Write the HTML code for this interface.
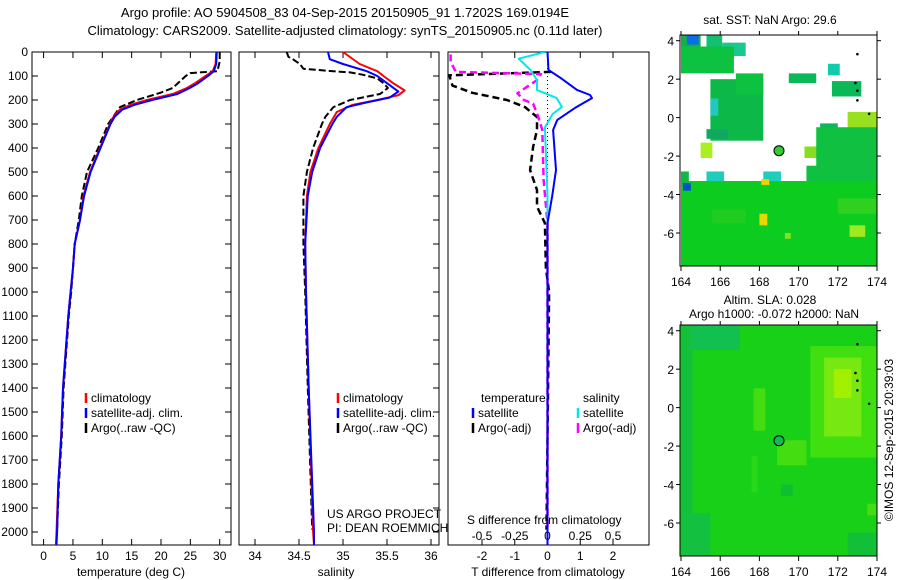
<!DOCTYPE html>
<html><head><meta charset="utf-8">
<style>
html,body{margin:0;padding:0;background:#fff;}
svg{display:block;font-family:"Liberation Sans",sans-serif;}
text{font-size:12px;fill:#000;}
</style></head>
<body>
<svg id="fig" width="900" height="580" viewBox="0 0 900 580" xmlns="http://www.w3.org/2000/svg">
<rect x="0" y="0" width="900" height="580" fill="#fff"/>
<text x="345" y="17" text-anchor="middle" style="font-size:13px">Argo profile: AO 5904508_83 04-Sep-2015 20150905_91 1.7202S 169.0194E</text>
<text x="345" y="35" text-anchor="middle" style="font-size:13px">Climatology: CARS2009. Satellite-adjusted climatology: synTS_20150905.nc (0.11d later)</text>
<g id="g"></g>
</svg>
<script>
// ---------- data ----------
const depthTicks=[0,100,200,300,400,500,600,700,800,900,1000,1100,1200,1300,1400,1500,1600,1700,1800,1900,2000];
const tempTicks=[0,5,10,15,20,25,30];
const salTicks=[34,34.5,35,35.5,36];
const tdiffTicks=[-2,-1,0,1,2];
const sdiffTicks=[-0.5,-0.25,0,0.25,0.5];
const sdiffTickLabels=["-0.5","-0.25","0","0.25","0.5"];

const tClimDepth=[0,50,80,100,130,150,175,200,220,240,270,300,400,500,600,700,800,900,1000,1100,1400,1600,1800,2000,2054];
const tClimVal=[29.4,29.3,28.8,27.6,25.8,24.4,22,17.6,14.8,13,11.9,11.3,9.6,7.9,6.8,6.2,5.3,5.0,4.6,4.2,3.3,3.0,2.5,2.2,2.1];
const tSatVal=[29.5,29.4,29.0,28.0,26.3,24.9,22.8,18.5,15.5,13.4,12.1,11.4,9.7,8.0,6.9,6.2,5.3,5.0,4.6,4.2,3.3,3.0,2.5,2.3,2.2];
const tArgoDepth=[0,40,80,88,100,150,170,200,230,300,400,500,600,700,800,900,1000,1100,1400,1600,1800,1990];
const tArgoVal=[30.0,30.0,29.6,25,24.2,22,19.9,15.9,13,11,9.3,7.4,6.5,6.0,5.3,5.0,4.7,4.3,3.4,3.1,2.6,2.3];

const sClimDepth=[0,50,80,100,130,160,180,200,220,250,300,400,500,600,800,1000,1400,2000,2054];
const sClimVal=[35.0,35.19,35.39,35.46,35.57,35.70,35.63,35.39,35.11,34.93,34.85,34.72,34.63,34.59,34.57,34.58,34.61,34.66,34.67];
const sSatDepth=[0,30,50,80,100,130,165,190,210,230,270,300,400,500,600,800,1000,1400,2000,2054];
const sSatVal=[34.83,34.85,35.0,35.27,35.39,35.5,35.63,35.53,35.27,35.04,34.93,34.88,34.74,34.65,34.6,34.57,34.58,34.61,34.67,34.67];
const sArgoDepth=[0,20,30,50,70,80,85,95,110,130,150,175,200,230,270,300,400,500,600,800,1000,1400,1990];
const sArgoVal=[34.36,34.38,34.43,34.51,34.55,34.89,35.08,35.23,35.39,35.46,35.51,35.42,35.08,34.89,34.80,34.76,34.66,34.59,34.55,34.55,34.57,34.6,34.65];

const dTSatDepth=[0,75,108,158,179,192,233,283,325,492,603,713,2054];
const dTSatVal=[0,0.03,0.4,0.9,1.3,1.36,0.84,0.3,0.17,0.26,0.14,0,0];
const dSSatDepth=[0,28,75,117,158,192,229,258,314,600,2054];
const dSSatVal=[-0.02,-0.22,-0.13,-0.08,-0.08,0.07,0.11,0.04,-0.02,0,0];
const dTArgoDepth=[83,97,140,170,200,229,271,325,396,492,575,644,713,900,1000,1990];
const dTArgoVal=[0.1,-3,-2.9,-2.3,-1.24,-0.69,-0.32,-0.32,-0.44,-0.53,-0.32,-0.32,-0.08,-0.05,0.05,-0.03];
const dSArgoDepth=[10,40,83,92,117,172,200,215,271,325,533,713,1990];
const dSArgoVal=[-0.74,-0.74,-0.7,-0.05,-0.08,-0.23,-0.18,-0.11,-0.07,-0.04,-0.03,0,0];

const lonTicks=[164,166,168,170,172,174];
const latTicks=[4,2,0,-2,-4,-6];
// SST map patches: lon0, lon1, lat0, lat1, colour
const sstLon0=[164,164,164.3,165.3,166.1,164,165.5,166.8,165.5,165.3,165,169.5,171.5,171.7,171.1,172.5,170.3,170.9,170.4,164,164,165.3,168.2,168.1,168,169.3,172.6,164.1,172,165.6];
const sstLon1=[174,165,164.9,166.1,167.3,166.7,168.2,168.2,165.9,166.4,165.6,170.9,172.1,173.2,172,174,171,174,174,174,164.4,166.2,169.1,168.5,168.4,169.6,173.4,164.5,174,167.3];
const sstLat0=[-7.7,3.6,3.8,3.1,3.2,2.3,-1.2,1.2,0.1,-1.1,-2.1,1.8,2.2,1.1,-0.9,-1.1,-2.1,-3,-3.5,-7.7,-3.6,-3.3,-3.3,-3.5,-5.6,-6.3,-6.2,-3.8,-5.0,-5.5];
const sstLat1=[-3.3,4.3,4.3,4.3,3.9,3.7,2.0,2.3,1.0,-0.6,-1.3,2.3,2.8,1.9,-0.3,0.3,-1.5,-0.5,-2.5,-3.3,-2.8,-2.8,-2.8,-3.2,-5.0,-6.0,-5.6,-3.4,-4.2,-4.8];
const sstColor=["#14c43c","#10b050","#0a6ee6","#13c070","#18c890","#0cc240","#0bb848","#0cc240","#20c8c0","#10a860","#aaf020","#0bb858","#11ccaa","#0bb858","#0bb858","#99e020","#88dd20","#10c040","#10c040","#0ccc20","#10b848","#20ccbb","#20ccbb","#f0d000","#e8d800","#88e020","#a0e820","#0050d0","#30d020","#20cc20"];
// SLA map patches
const slaLon0=[164,164,164.5,167.7,168.9,170.6,171.3,171.8,173.5,169.1,167.6,164,172.5];
const slaLon1=[174,164.6,167,168.3,170.4,174,173.2,172.7,174,169.7,167.9,165.5,174];
const slaLat0=[-7.7,-7.7,3,-1.2,-3.0,-2.6,-1.5,0.5,-5.6,-4.6,-4.4,-7.7,-7.7];
const slaLat1=[4.3,4.3,4.3,1.0,-1.7,3.2,2.6,2.0,-5.0,-4.0,-2.5,-5.5,-6.5];
const slaColor=["#18d018","#14c03a","#12c050","#44dd11","#44dd11","#40e010","#77e811","#a0f000","#44dd11","#0cc030","#2ad81a","#14c040","#12c038"];

// ---------- helpers ----------
const NS="http://www.w3.org/2000/svg";
const G=document.getElementById('g');
function mk(tag,attrs,parent){const e=document.createElementNS(NS,tag);for(const k in attrs)e.setAttribute(k,attrs[k]);(parent||G).appendChild(e);return e;}
const Y0=52,Y1=545;
function yD(d){return Y0+d*0.24;}
function xT(t){return 43.6+t*5.87;}
function xS(s){return 255+(s-34)*88;}
function xdT(v){return 547.5+v*32.75;}
function xdS(v){return 547.5+v*131;}
const panels=[[32,231],[239,439],[448,649]];

panels.forEach((p,i)=>{
  const r=mk('rect',{x:p[0],y:Y0,width:p[1]-p[0],height:Y1-Y0,fill:'none',stroke:'#000','stroke-width':1});
  
  
});
depthTicks.forEach(d=>{
  const y=yD(d);
  const t=mk('text',{x:28,y:y+4,'text-anchor':'end'});t.textContent=d;
  
  
  mk('line',{x1:32,x2:38,y1:y,y2:y,stroke:'#000'});
  mk('line',{x1:225,x2:231,y1:y,y2:y,stroke:'#000'});
  mk('line',{x1:433,x2:439,y1:y,y2:y,stroke:'#000'});
});
function xTicks(vals,labels,fx,ly,tickTop){
  vals.forEach((v,i)=>{
    const x=fx(v);
    mk('line',{x1:x,x2:x,y1:Y1,y2:Y1-6,stroke:'#000'});
    if(tickTop) mk('line',{x1:x,x2:x,y1:Y0,y2:Y0+6,stroke:'#000'});
    const t=mk('text',{x:x,y:ly,'text-anchor':'middle'});t.textContent=labels[i];
    
    
  });
}
xTicks(tempTicks,tempTicks.map(String),xT,560,true);
xTicks(salTicks,salTicks.map(String),xS,560,true);
xTicks(tdiffTicks,tdiffTicks.map(String),xdT,560,true);
sdiffTicks.forEach((v,i)=>{
  const t=mk('text',{x:xdS(v),y:540,'text-anchor':'middle'});t.textContent=sdiffTickLabels[i];
  
  
});
mk('line',{x1:xdT(0),x2:xdT(0),y1:Y0,y2:Y1,stroke:'#000','stroke-dasharray':'1,3'});

function line(depths,vals,fx,color,dash,width,name){
  const pts=depths.map((d,i)=>fx(vals[i]).toFixed(1)+','+yD(d).toFixed(1)).join(' ');
  const p=mk('polyline',{points:pts,fill:'none',stroke:color,'stroke-width':width||2,'stroke-dasharray':dash||'none','stroke-linejoin':'round'});
  
  
}
mk('clipPath',{id:'c3'});
mk('rect',{x:448,y:52,width:201,height:493},document.getElementById('c3'));
line(tArgoDepth,tArgoVal,xT,'#000','7,3',2,'temp-argo-line');
line(tClimDepth,tClimVal,xT,'#f00','',2,'temp-climatology-line');
line(tClimDepth,tSatVal,xT,'#00f','',2,'temp-satellite-line');
line(sArgoDepth,sArgoVal,xS,'#000','7,3',2,'sal-argo-line');
line(sClimDepth,sClimVal,xS,'#f00','',2,'sal-climatology-line');
line(sSatDepth,sSatVal,xS,'#00f','',2,'sal-satellite-line');
const before=G.childNodes.length;
line(dTArgoDepth,dTArgoVal,xdT,'#000','7,4',2.5,'tdiff-argo-line');
line(dSArgoDepth,dSArgoVal,xdS,'#f0f','7,4',2.5,'sdiff-argo-line');
line(dSSatDepth,dSSatVal,xdS,'#00e8e8','',2,'sdiff-satellite-line');
line(dTSatDepth,dTSatVal,xdT,'#00f','',2,'tdiff-satellite-line');
for(let i=before;i<G.childNodes.length;i++)G.childNodes[i].setAttribute('clip-path','url(#c3)');

function txt(x,y,s,name,anchor){const t=mk('text',{x:x,y:y,'text-anchor':anchor||'start'});t.textContent=s;
  
  return t;}
function legend(x,y,color,label,name){
  mk('line',{x1:x,x2:x,y1:y-9,y2:y+1,stroke:color,'stroke-width':2.5});
  txt(x+5,y,label,name);
}
[[86,'temp'],[338,'sal']].forEach(([lx,n])=>{
  legend(lx,402,'#f00','climatology',n+'-legend-climatology');
  legend(lx,417,'#00f','satellite-adj. clim.',n+'-legend-satellite');
  legend(lx,432,'#000','Argo(..raw -QC)',n+'-legend-argo');
});
txt(481,402,'temperature','diff-legend-temperature-title');
txt(583,402,'salinity','diff-legend-salinity-title');
legend(473,417,'#00f','satellite','diff-legend-t-satellite');
legend(473,432,'#000','Argo(-adj)','diff-legend-t-argo');
legend(578,417,'#00e8e8','satellite','diff-legend-s-satellite');
legend(578,432,'#f0f','Argo(-adj)','diff-legend-s-argo');
txt(327,518,'US ARGO PROJECT','credit-project');
txt(327,532,'PI: DEAN ROEMMICH','credit-pi');
txt(467,524,'S difference from climatology','s-diff-axis-title');
txt(131,576,'temperature (deg C)','temp-axis-title','middle');
txt(336,576,'salinity','sal-axis-title','middle');
txt(548,576,'T difference from climatology','t-diff-axis-title','middle');

// ---------- maps ----------
function map(top,bot,lat4y,lat6y,lon0,lon1,la0,la1,col,bg,nm){
  const X0=680,X1=877;
  const lx=v=>681+(v-164)*19.6;
  const ly=v=>lat4y+(4-v)*(lat6y-lat4y)/10;
  mk('clipPath',{id:'cl'+nm});
  mk('rect',{x:X0,y:top,width:X1-X0,height:bot-top},document.getElementById('cl'+nm));
  const gg=mk('g',{'clip-path':'url(#cl'+nm+')'});
  
  
  if(bg) mk('rect',{x:X0,y:top,width:X1-X0,height:bot-top,fill:bg},gg);
  lon0.forEach((v,i)=>{
    const r=mk('rect',{x:lx(v),y:ly(la1[i]),width:lx(lon1[i])-lx(v),height:ly(la0[i])-ly(la1[i]),fill:col[i]},gg);
    
    
  });
  const c=mk('circle',{cx:lx(169),cy:ly(-1.72),r:5,fill:nm==='sst'?'#3c3':'#1b5',stroke:'#000','stroke-width':1});
  
  
  const f=mk('rect',{x:X0,y:top,width:X1-X0,height:bot-top,fill:'none',stroke:'#000'});
  
  
  lonTicks.forEach(v=>{const x=lx(v);mk('line',{x1:x,x2:x,y1:bot,y2:bot+5,stroke:'#000'});mk('line',{x1:x,x2:x,y1:top,y2:top-4,stroke:'#000'});
    txt(x,bot+20,String(v),nm+'-lon-label','middle');});
  latTicks.forEach(v=>{const y=ly(v);mk('line',{x1:X0,x2:X0-4,y1:y,y2:y,stroke:'#000'});mk('line',{x1:X1,x2:X1+4,y1:y,y2:y,stroke:'#000'});
    txt(674,y+5,String(v),nm+'-lat-label','end');});
  [[173,3.3],[172.9,1.8],[173,1.4],[173,0.9],[173.6,0.2]].forEach(p=>mk('circle',{cx:lx(p[0]),cy:ly(p[1]),r:1.3,fill:'#000'}));
}
map(35,266,40.7,233,sstLon0,sstLon1,sstLat0,sstLat1,sstColor,null,'sst');
map(325,556,330.7,523,slaLon0,slaLon1,slaLat0,slaLat1,slaColor,'#18d018','sla');
txt(770,24,'sat. SST: NaN Argo: 29.6','sst-map-title','middle');
txt(770,304,'Altim. SLA: 0.028','sla-map-title','middle');
txt(774,318,'Argo h1000: -0.072 h2000: NaN','sla-map-subtitle','middle');
const cr=txt(0,0,'©IMOS 12-Sep-2015 20:39:03','timestamp-credit','middle');
cr.setAttribute('transform','translate(893,440) rotate(-90)');
</script>
</body></html>
